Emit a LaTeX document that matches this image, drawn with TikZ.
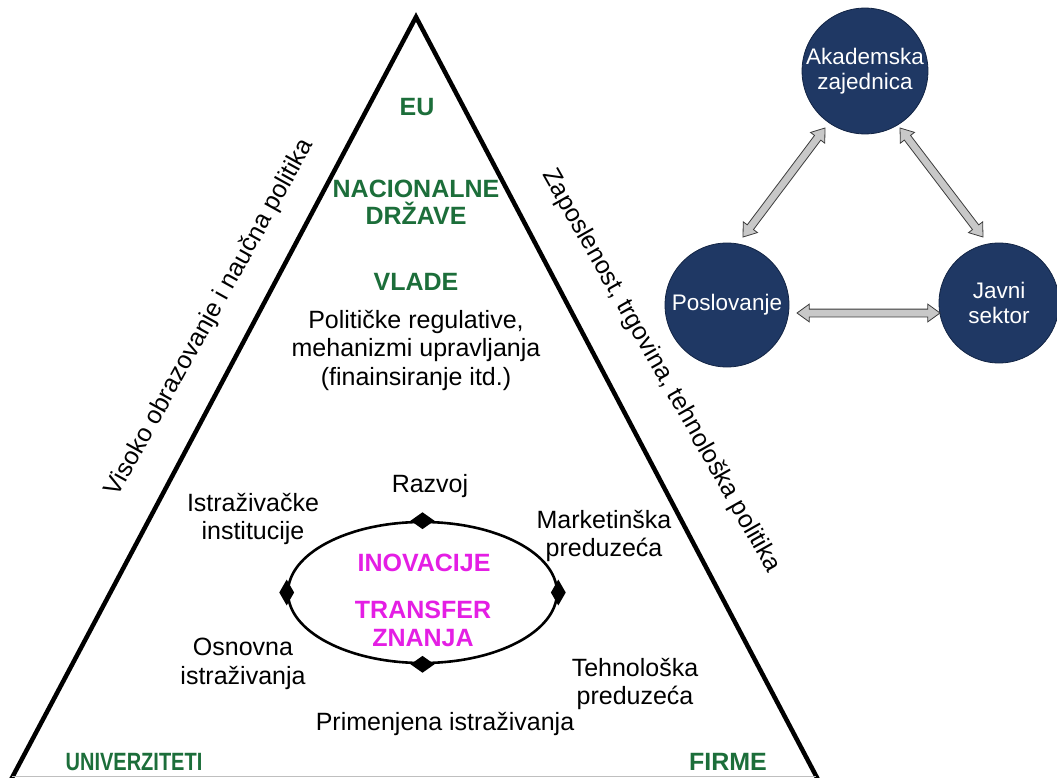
\documentclass[tikz,border=0pt]{standalone}
\usepackage{fontspec}
\setmainfont{Liberation Sans}
\usetikzlibrary{shapes.geometric,shapes.arrows,calc}

\definecolor{govgreen}{RGB}{28,110,58}
\definecolor{innomag}{RGB}{228,30,228}
\definecolor{sectorblue}{RGB}{31,56,100}
\definecolor{sectoredge}{RGB}{18,36,68}
\definecolor{arrowfill}{RGB}{200,200,200}
\definecolor{arrowline}{RGB}{60,60,60}

\tikzset{
  plain/.style={font=\fontsize{25}{28.5}\selectfont, align=center, inner sep=0pt},
  level/.style={font=\fontsize{25}{27}\selectfont\bfseries, text=govgreen, align=center, inner sep=0pt},
  core/.style={font=\fontsize{25}{28}\selectfont\bfseries, text=innomag, align=center, inner sep=0pt},
  sector/.style={circle, fill=sectorblue, draw=sectoredge, line width=0.8pt,
    minimum size=124pt, inner sep=0pt, text=white, align=center,
    font=\fontsize{22.5}{25}\selectfont},
  link/.style={double arrow, draw=arrowline, fill=arrowfill, line width=0.8pt,
    inner xsep=0pt, inner ysep=3.5pt, double arrow head extend=5pt,
    double arrow tip angle=72, outer sep=0pt},
  knot/.style={diamond, fill=black, inner sep=0pt},
}

% block double arrow between two named points
\newcommand\linkarrow[2]{%
  \path let \p1=($(#2)-(#1)$) in
    node[link, minimum height={veclen(\x1,\y1)}, rotate={atan2(\y1,\x1)}]
    at ($(#1)!0.5!(#2)$) {};}

\begin{document}
\begin{tikzpicture}[x=1pt,y=-1pt]
\useasboundingbox (0,0) rectangle (1057,778);
\clip (0,0) rectangle (1057,778);

% pyramid outline
\draw[line width=4.5pt, line join=miter, miter limit=10]
  (5.5,790) -- (416,17) -- (823.5,790);
\draw[gray!50, line width=1pt] (12,776.5) -- (816,776.5);

% levels of governance
\node[level] (eu) at (417,107) {EU};
\node[level] (nat) at (416,202) {NACIONALNE\\DRŽAVE};
\node[level] (gov) at (416,282) {VLADE};
\node[plain] (reg) at (416,350) {Političke regulative,\\mehanizmi upravljanja\\(finainsiranje itd.)};

% policy labels along the sides
\node[plain, rotate=61] (edu) at (210,318) {Visoko obrazovanje i naučna politika};
\node[plain, rotate=-60.5] (emp) at (661,371) {Zaposlenost, trgovina, tehnološka politika};

% innovation cycle
\node[ellipse, draw, line width=2.6pt, minimum width=269pt, minimum height=141pt, inner sep=0pt] (innov) at (422.5,592.5) {};
\node[knot, minimum width=24pt, minimum height=17pt] (kn) at (innov.north) {};
\node[knot, minimum width=24pt, minimum height=17pt] (ks) at (innov.south) {};
\node[knot, minimum width=15pt, minimum height=26pt] (kw) at (innov.west) {};
\node[knot, minimum width=15pt, minimum height=26pt] (ke) at (innov.east) {};
\node[core] (ino) at (424,563) {INOVACIJE};
\node[core] (tz) at (423,624) {TRANSFER\\ZNANJA};

% actors around the cycle
\node[plain] (razvoj) at (430,486) {Razvoj};
\node[plain] (inst) at (253,519) {Istraživačke\\institucije};
\node[plain] (mark) at (604,536) {Marketinška\\preduzeća};
\node[plain] (osn) at (243,664) {Osnovna\\istraživanja};
\node[plain] (teh) at (635,684) {Tehnološka\\preduzeća};
\node[plain] (prim) at (445,724) {Primenjena istraživanja};
\node[level, xscale=0.8] (uni) at (134,762) {UNIVERZITETI};
\node[level] (firme) at (728,762) {FIRME};

% triple helix
\node[sector] (ak) at (865,71) {Akademska\\zajednica};
\node[sector] (po) at (727,305) {Poslovanje};
\node[sector, minimum size=120pt] (js) at (999,303) {Javni\\sektor};

\coordinate (a1) at ($(po.center)+(16,-68)$);
\coordinate (a2) at ($(ak.center)+(-40,57)$);
\coordinate (b1) at ($(ak.center)+(35,57)$);
\coordinate (b2) at ($(js.center)+(-16,-66)$);
\coordinate (c1) at ($(po.center)+(70,8)$);
\coordinate (c2) at ($(js.center)+(-59,10)$);
\linkarrow{a1}{a2}
\linkarrow{b1}{b2}
\linkarrow{c1}{c2}
\end{tikzpicture}
\end{document}
